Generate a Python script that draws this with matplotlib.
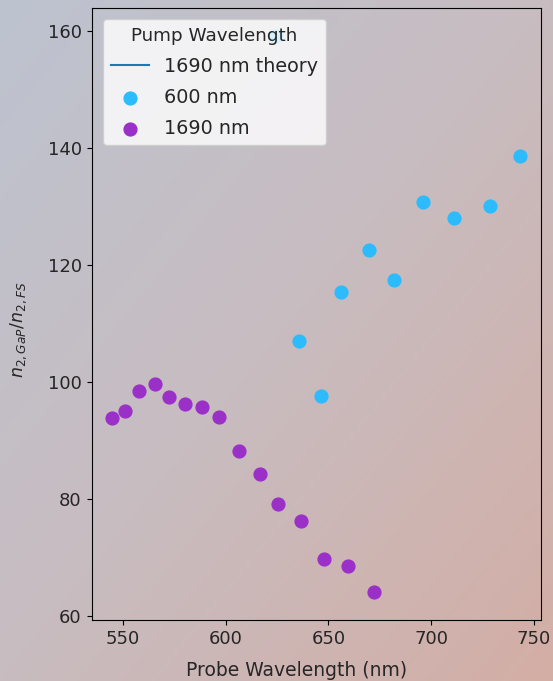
import numpy as np
import matplotlib
matplotlib.use("Agg")
import matplotlib.pyplot as plt
from matplotlib.colors import LinearSegmentedColormap

# measured ratio n2(GaP)/n2(FS) vs probe wavelength
probe_600 = [624.5, 635.8, 646.4, 656.0, 669.7, 681.8, 695.9, 711.1, 728.6, 743.4]
ratio_600 = [159.2, 106.9, 97.5, 115.4, 122.6, 117.4, 130.7, 128.0, 130.1, 138.6]

probe_1690 = [544.7, 551.0, 557.8, 565.7, 572.5, 580.3, 588.5, 596.8, 606.5,
              616.5, 625.5, 636.5, 647.8, 659.5, 672.1]
ratio_1690 = [93.8, 95.0, 98.4, 99.6, 97.4, 96.2, 95.7, 94.0, 88.2,
              84.2, 79.0, 76.1, 69.7, 68.4, 64.0]

# theory curve falls outside the shown range, only its legend entry is visible
theory_x = []
theory_y = []

plt.rcParams["text.color"] = "#262626"
plt.rcParams["axes.labelcolor"] = "#262626"
plt.rcParams["xtick.labelcolor"] = "#262626"
plt.rcParams["ytick.labelcolor"] = "#262626"

fig = plt.figure(figsize=(5.53, 6.81), dpi=100)

# diagonal gradient background
bg = fig.add_axes([0, 0, 1, 1], zorder=-10)
cmap = LinearSegmentedColormap.from_list("bg", ["#bdc3d0", "#c8bcc0", "#d3aea5"])
yy, xx = np.mgrid[0:1:200j, 0:1:200j]
bg.imshow((xx + yy) / 2, cmap=cmap, extent=[0, 1, 1, 0], aspect="auto")
bg.axis("off")

ax = fig.add_axes([0.1655, 0.0896, 0.8125, 0.899])
ax.set_facecolor("none")

ax.plot(theory_x, theory_y, color="#1f77b4", label="1690 nm theory")
ax.scatter(probe_600, ratio_600, s=85, color="#2cbcfd", label="600 nm")
ax.scatter(probe_1690, ratio_1690, s=85, color="#9b30c8", label="1690 nm")

ax.set_xlabel("Probe Wavelength (nm)", fontsize=13.5)
ax.set_ylabel(r"$n_{2,GaP}/n_{2,FS}$", fontsize=12.5)
ax.xaxis.set_label_coords(0.457, -0.067)
ax.yaxis.set_label_coords(-0.14, 0.475)
ax.tick_params(labelsize=13)
ax.set_xticks([550, 600, 650, 700, 750])
ax.set_yticks([60, 80, 100, 120, 140, 160])

ax.legend(title="Pump Wavelength", loc="upper left", fontsize=13.8, title_fontsize=13.2,
          borderaxespad=0.6, labelspacing=0.62)

fig.savefig("out.png", dpi=100)
